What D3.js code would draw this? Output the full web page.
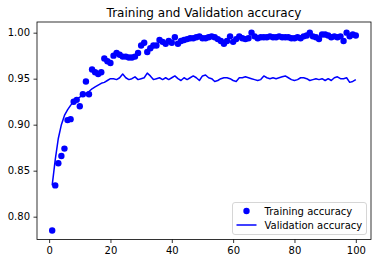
<!DOCTYPE html>
<html>
<head>
<meta charset="utf-8">
<script src="https://cdn.jsdelivr.net/npm/d3@7"></script>
<style>
  body { margin: 0; background: #fff; }
  svg { display: block; font-family: "DejaVu Sans", sans-serif; }
</style>
</head>
<body>
<div id="chart"></div>
<script>
const epochs = d3.range(1, 101);

const trainAcc = [
  0.785, 0.834, 0.858, 0.866, 0.874, 0.905, 0.906, 0.925, 0.927, 0.920,
  0.933, 0.947, 0.933, 0.960, 0.957, 0.955, 0.957, 0.972, 0.969, 0.967,
  0.975, 0.978, 0.976, 0.974, 0.974, 0.973, 0.973, 0.974, 0.978, 0.986,
  0.989, 0.979, 0.983, 0.986, 0.986, 0.992, 0.990, 0.988, 0.991, 0.989,
  0.995, 0.988, 0.991, 0.992, 0.993, 0.994, 0.994, 0.995, 0.996, 0.994,
  0.994, 0.995, 0.996, 0.995, 0.993, 0.991, 0.988, 0.991, 0.996, 0.990,
  0.993, 0.996, 0.994, 0.993, 0.994, 1.000, 0.996, 0.994, 0.995, 0.995,
  0.995, 0.996, 0.995, 0.995, 0.996, 0.995, 0.995, 0.995, 0.994, 0.994,
  0.995, 0.994, 0.996, 0.997, 1.000, 0.996, 0.995, 0.993, 0.998, 0.998,
  0.997, 0.995, 0.996, 0.995, 0.996, 0.991, 1.000, 0.996, 0.998, 0.997
];

const valAcc = [
  0.834, 0.862, 0.885, 0.900, 0.910, 0.916, 0.921, 0.925, 0.928, 0.930,
  0.932, 0.934, 0.936, 0.939, 0.941, 0.943, 0.945, 0.946, 0.948, 0.950,
  0.950, 0.949, 0.951, 0.955, 0.951, 0.949, 0.950, 0.952, 0.949, 0.950,
  0.951, 0.956, 0.953, 0.949, 0.950, 0.951, 0.949, 0.951, 0.949, 0.951,
  0.953, 0.950, 0.948, 0.951, 0.949, 0.951, 0.953, 0.951, 0.948, 0.953,
  0.954, 0.951, 0.950, 0.947, 0.948, 0.950, 0.951, 0.951, 0.950, 0.948,
  0.947, 0.951, 0.951, 0.952, 0.951, 0.950, 0.949, 0.948, 0.949, 0.953,
  0.951, 0.950, 0.951, 0.950, 0.951, 0.952, 0.953, 0.951, 0.949, 0.948,
  0.949, 0.951, 0.951, 0.950, 0.948, 0.949, 0.950, 0.949, 0.950, 0.948,
  0.950, 0.948, 0.951, 0.952, 0.950, 0.950, 0.951, 0.946, 0.947, 0.949
];

const xTicks = [0, 20, 40, 60, 80, 100];
const yTicks = [0.80, 0.85, 0.90, 0.95, 1.00];
const seriesNames = ["Training accuracy", "Validation accuracy"];

const width = 378;
const height = 264;
const margin = { top: 22, right: 7, bottom: 24.5, left: 37 };
const blue = "#0000ff";

const svg = d3.select("#chart").append("svg")
  .attr("width", width)
  .attr("height", height);

const x = d3.scaleLinear().domain([-3.95, 104.95])
  .range([margin.left, width - margin.right]);
const y = d3.scaleLinear().domain([0.7752, 1.0116])
  .range([height - margin.bottom, margin.top]);

// title
svg.append("text")
  .attr("x", (margin.left + width - margin.right) / 2)
  .attr("y", 17)
  .attr("text-anchor", "middle")
  .style("font-size", "12px")
  .attr("fill", "#000")
  .text("Training and Validation accuracy");

// validation line
const line = d3.line()
  .x((d, i) => x(epochs[i]))
  .y((d) => y(d));

svg.append("path")
  .datum(valAcc)
  .attr("fill", "none")
  .attr("stroke", blue)
  .attr("stroke-width", 1.5)
  .attr("stroke-linejoin", "round")
  .attr("d", line);

// training dots
svg.append("g")
  .selectAll("circle")
  .data(trainAcc)
  .join("circle")
  .attr("cx", (d, i) => x(epochs[i]))
  .attr("cy", (d) => y(d))
  .attr("r", 3.2)
  .attr("fill", blue);

// axes
const xAxis = svg.append("g")
  .attr("transform", `translate(0,${height - margin.bottom})`)
  .call(d3.axisBottom(x).tickValues(xTicks).tickSize(3.5).tickPadding(3.5).tickFormat(d3.format("d")));

const yAxis = svg.append("g")
  .attr("transform", `translate(${margin.left},0)`)
  .call(d3.axisLeft(y).tickValues(yTicks).tickSize(3.5).tickPadding(3.5).tickFormat(d3.format(".2f")));

for (const ax of [xAxis, yAxis]) {
  ax.select(".domain").remove();
  ax.selectAll("line").attr("stroke", "#000").attr("stroke-width", 0.8);
  ax.selectAll("text")
    .attr("fill", "#000")
    .style("font-size", "10px")
    .style("font-family", "DejaVu Sans, sans-serif");
}

// frame
svg.append("rect")
  .attr("x", margin.left)
  .attr("y", margin.top)
  .attr("width", width - margin.left - margin.right)
  .attr("height", height - margin.top - margin.bottom)
  .attr("fill", "none")
  .attr("stroke", "#000")
  .attr("stroke-width", 0.8);

// legend
const legend = svg.append("g").attr("transform", "translate(232.5,202.5)");
legend.append("rect")
  .attr("width", 134)
  .attr("height", 32)
  .attr("rx", 2.5)
  .attr("fill", "#fff")
  .attr("fill-opacity", 0.8)
  .attr("stroke", "#cccccc")
  .attr("stroke-width", 0.8);

legend.append("circle")
  .attr("cx", 14)
  .attr("cy", 8.5)
  .attr("r", 3.2)
  .attr("fill", blue);
legend.append("line")
  .attr("x1", 4).attr("x2", 24)
  .attr("y1", 22.5).attr("y2", 22.5)
  .attr("stroke", blue)
  .attr("stroke-width", 1.5);

seriesNames.forEach((name, i) => {
  legend.append("text")
    .attr("x", 32)
    .attr("y", 8.5 + i * 14)
    .attr("dy", "0.35em")
    .attr("fill", "#000")
    .style("font-size", "10px")
    .text(name);
});
</script>
</body>
</html>
